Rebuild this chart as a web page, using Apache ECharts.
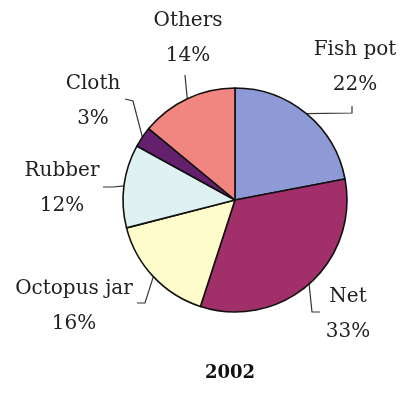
<!DOCTYPE html>
<html><head><meta charset="utf-8">
<script src="https://cdn.jsdelivr.net/npm/echarts@6/dist/echarts.min.js"></script>
<style>html,body{margin:0;padding:0;background:#fff}#c{width:405px;height:396px}</style>
</head><body><div id="c"></div>
<script>
var categories = ['Fish pot', 'Net', 'Octopus jar', 'Rubber', 'Cloth', 'Others'];
var shares = [22, 33, 16, 12, 3, 14];
var sliceColors = ['#8d9ad6', '#a1306a', '#fffccb', '#e0f1f1', '#64206c', '#f18580'];
var chartTitle = '2002';

// label placement (text centres) and leader elbows, in pixels
var labelPos = [
  {x: 355, y: 67,  elbow: [[352, 113], [352, 106]]},
  {x: 348, y: 314, elbow: [[312, 312], [320, 312]]},
  {x: 74,  y: 306, elbow: [[145, 303], [137, 303]]},
  {x: 62,  y: 188, elbow: [[113, 187], [103, 187]]},
  {x: 93,  y: 101, elbow: [[133, 101], [125, 99]]},
  {x: 188, y: 38,  elbow: [[186, 86], [185, 75]]}
];

var chart = echarts.init(document.getElementById('c'), null, {renderer: 'canvas'});
var data = categories.map(function (n, i) {
  return {name: n, value: shares[i], itemStyle: {color: sliceColors[i]}};
});
chart.setOption({
  animation: false,
  backgroundColor: '#ffffff',
  title: {
    text: chartTitle, left: 200, top: 359,
    textStyle: {fontFamily: 'DejaVu Serif', fontWeight: 'bold', fontSize: 18, color: '#111'}
  },
  series: [{
    type: 'pie',
    center: [235, 200],
    radius: 112,
    startAngle: 90,
    clockwise: true,
    avoidLabelOverlap: false,
    data: data,
    itemStyle: {borderColor: '#111', borderWidth: 1.6},
    label: {
      show: true,
      position: 'outside',
      formatter: '{b}\n{c}%',
      fontFamily: 'DejaVu Serif',
      fontSize: 20,
      lineHeight: 35,
      color: '#222',
      align: 'center'
    },
    labelLine: {show: true, length: 10, length2: 10, lineStyle: {color: '#333', width: 1.2}},
    emphasis: {disabled: true},
    labelLayout: function (params) {
      var p = labelPos[params.dataIndex];
      var start = params.labelLinePoints ? params.labelLinePoints[0] : p.elbow[0];
      return {
        x: p.x, y: p.y, align: 'center', verticalAlign: 'middle',
        labelLinePoints: [start, p.elbow[0], p.elbow[1]]
      };
    }
  }]
});
</script></body></html>
